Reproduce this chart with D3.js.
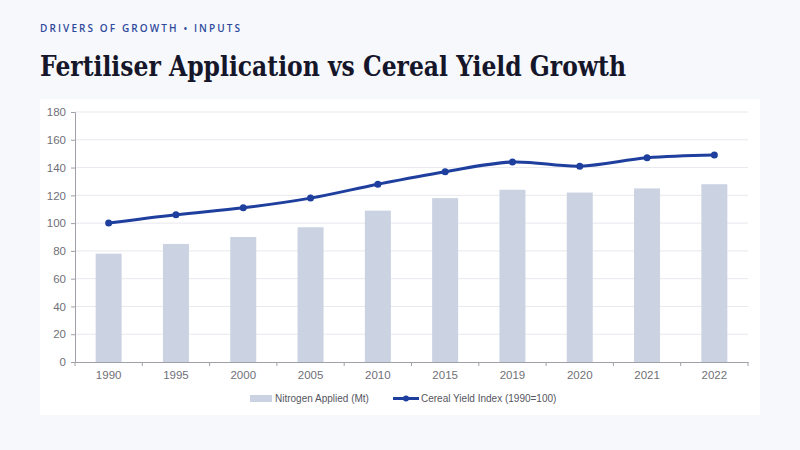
<!DOCTYPE html>
<html>
<head>
<meta charset="utf-8">
<script src="https://cdn.jsdelivr.net/npm/d3@7"></script>
<style>
  body { margin: 0; background: #f7f8fc; }
  svg { display: block; }
</style>
</head>
<body>
<div id="chart"></div>
<script>
// Data
var years = ["1990", "1995", "2000", "2005", "2010", "2015", "2019", "2020", "2021", "2022"];
var nitrogen = [78, 85, 90, 97, 109, 118, 124, 122, 125, 128];
var yieldIndex = [100, 106, 111, 118, 128, 137, 144, 141, 147, 149];
var yTicks = [0, 20, 40, 60, 80, 100, 120, 140, 160, 180];

var svgWidth = 800;
var svgHeight = 450;
var margin = { top: 112, right: 52, bottom: 88, left: 75 };
var width = svgWidth - margin.left - margin.right;
var height = svgHeight - margin.top - margin.bottom;

var svg = d3.select("#chart").append("svg")
    .attr("width", svgWidth)
    .attr("height", svgHeight);

// Header
svg.append("text")
    .attr("x", 40).attr("y", 32)
    .attr("font-family", "'Open Sans', 'DejaVu Sans', sans-serif")
    .attr("font-size", 10)
    .attr("font-weight", 600)
    .attr("letter-spacing", 2.1)
    .attr("fill", "#2f4a9c")
    .text("DRIVERS OF GROWTH \u2022 INPUTS");

svg.append("text")
    .attr("x", 40).attr("y", 76)
    .attr("font-family", "'DejaVu Serif', 'Liberation Serif', serif")
    .attr("font-size", 27)
    .attr("font-weight", "bold")
    .attr("fill", "#16162a")
    .attr("textLength", 586)
    .attr("lengthAdjust", "spacingAndGlyphs")
    .text("Fertiliser Application vs Cereal Yield Growth");

// Panel
svg.append("rect")
    .attr("x", 40).attr("y", 99)
    .attr("width", 720).attr("height", 316)
    .attr("fill", "#ffffff");

var chartGroup = svg.append("g")
    .attr("transform", `translate(${margin.left}, ${margin.top})`);

// Scales
var xScale = d3.scaleBand()
    .domain(years)
    .range([0, width])
    .paddingInner(0.6)
    .paddingOuter(0.3);

var xBand = d3.scaleBand().domain(years).range([0, width]);

var yScale = d3.scaleLinear()
    .domain([0, 180])
    .range([height, 0]);

// Gridlines
chartGroup.append("g")
    .selectAll("line")
    .data(yTicks.slice(1))
    .enter()
    .append("line")
    .attr("x1", 0)
    .attr("x2", width)
    .attr("y1", d => yScale(d))
    .attr("y2", d => yScale(d))
    .attr("stroke", "#e8e8ef")
    .attr("stroke-width", 1);

// Bars
chartGroup.selectAll("rect.bar")
    .data(nitrogen)
    .enter()
    .append("rect")
    .attr("class", "bar")
    .attr("x", (d, i) => xBand(years[i]) + xBand.bandwidth() / 2 - 13)
    .attr("width", 26)
    .attr("y", d => yScale(d))
    .attr("height", d => height - yScale(d))
    .attr("fill", "#cbd3e2");

// Axes
var yAxis = d3.axisLeft(yScale).tickValues(yTicks).tickSize(4).tickPadding(5);
var yG = chartGroup.append("g").call(yAxis);
yG.select(".domain").attr("stroke", "#a0a0a8");
yG.selectAll(".tick line").attr("stroke", "#a0a0a8");
yG.selectAll("text")
    .attr("fill", "#707078")
    .attr("font-family", "'Liberation Sans', Arial, sans-serif")
    .attr("font-size", 11.5);

var xAxis = d3.axisBottom(xBand).tickSize(0).tickPadding(9);
var xG = chartGroup.append("g")
    .attr("transform", `translate(0, ${height})`)
    .call(xAxis);
xG.select(".domain").attr("stroke", "#a0a0a8");
xG.selectAll("text")
    .attr("fill", "#707078")
    .attr("font-family", "'Liberation Sans', Arial, sans-serif")
    .attr("font-size", 11.5);

// Tick marks between categories
xG.append("g")
    .selectAll("line")
    .data(d3.range(years.length + 1))
    .enter()
    .append("line")
    .attr("x1", i => i * xBand.step())
    .attr("x2", i => i * xBand.step())
    .attr("y1", 0)
    .attr("y2", 4)
    .attr("stroke", "#a0a0a8");

// Line
var line = d3.line()
    .x((d, i) => xBand(years[i]) + xBand.bandwidth() / 2)
    .y(d => yScale(d))
    .curve(d3.curveCatmullRom.alpha(0.5));

chartGroup.append("path")
    .datum(yieldIndex)
    .attr("d", line)
    .attr("fill", "none")
    .attr("stroke", "#1f3f9e")
    .attr("stroke-width", 3);

chartGroup.selectAll("circle")
    .data(yieldIndex)
    .enter()
    .append("circle")
    .attr("cx", (d, i) => xBand(years[i]) + xBand.bandwidth() / 2)
    .attr("cy", d => yScale(d))
    .attr("r", 3.5)
    .attr("fill", "#1f3f9e");

// Legend
var legend = svg.append("g")
    .attr("font-family", "'Liberation Sans', Arial, sans-serif")
    .attr("font-size", 10)
    .attr("fill", "#555560");

legend.append("rect")
    .attr("x", 250).attr("y", 395)
    .attr("width", 22).attr("height", 7)
    .attr("fill", "#cbd3e2");
legend.append("text")
    .attr("x", 275).attr("y", 402)
    .text("Nitrogen Applied (Mt)");

legend.append("line")
    .attr("x1", 393).attr("x2", 419)
    .attr("y1", 398.5).attr("y2", 398.5)
    .attr("stroke", "#1f3f9e")
    .attr("stroke-width", 3);
legend.append("circle")
    .attr("cx", 406).attr("cy", 398.5)
    .attr("r", 3)
    .attr("fill", "#1f3f9e");
legend.append("text")
    .attr("x", 421).attr("y", 402)
    .text("Cereal Yield Index (1990=100)");
</script>
</body>
</html>
